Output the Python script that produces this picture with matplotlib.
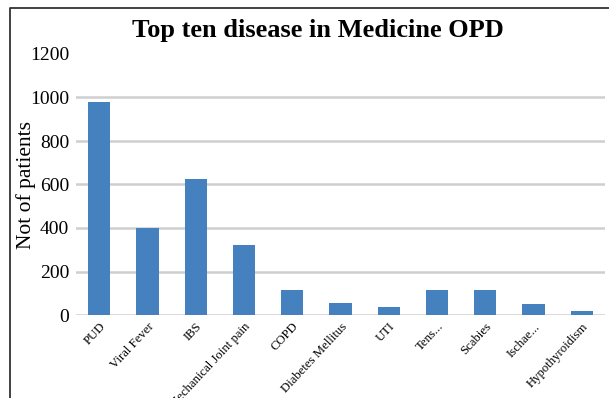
import matplotlib
matplotlib.use("Agg")
import matplotlib.pyplot as plt
from matplotlib.lines import Line2D

categories = ["PUD", "Viral Fever", "IBS", "Mechanical Joint pain", "COPD",
              "Diabetes Mellitus", "UTI", "Tens...", "Scabies", "Ischae...",
              "Hypothyroidism"]
values = [978, 400, 625, 322, 115, 55, 38, 115, 115, 52, 18]
yticks = [0, 200, 400, 600, 800, 1000, 1200]

plt.rcParams['font.family'] = ['Liberation Serif', 'DejaVu Serif']

W, H = 609, 398
fig = plt.figure(figsize=(W / 100, H / 100), dpi=100)
ax = fig.add_axes([76 / W, 1 - 315 / H, (605 - 76) / W, (315 - 54) / H])

x = list(range(len(categories)))
ax.bar(x, values, width=0.46, color="#4481be", zorder=3)
ax.set_xlim(-0.48, len(categories) - 0.52)
ax.set_ylim(0, 1200)
ax.set_yticks(yticks)
ax.set_yticklabels([str(v) for v in yticks], fontsize=14)
for v in yticks[:-1]:
    ax.axhline(v, color="#cfcfcf", lw=1.8, zorder=1)
for s in ax.spines.values():
    s.set_visible(False)
ax.tick_params(axis='y', length=0, pad=5)
ax.tick_params(axis='x', length=0, pad=4)
ax.set_xticks(x)
ax.set_xticklabels(categories, rotation=47, ha='right', va='top',
                   rotation_mode='anchor', fontsize=9.2)

fig.text(26 / W, 1 - 185 / H, "Not of patients", rotation=90,
         ha='center', va='center', fontsize=15.5)

fig.text(318 / W, 1 - 30 / H, "Top ten disease in Medicine OPD",
         ha='center', va='center', fontsize=19, fontweight='bold')

fig.lines.append(Line2D([10 / W, 10 / W, 1], [0, 1 - 7.5 / H, 1 - 7.5 / H],
                        transform=fig.transFigure, color="#333333", lw=1.3))

fig.savefig("out.png", dpi=100)
